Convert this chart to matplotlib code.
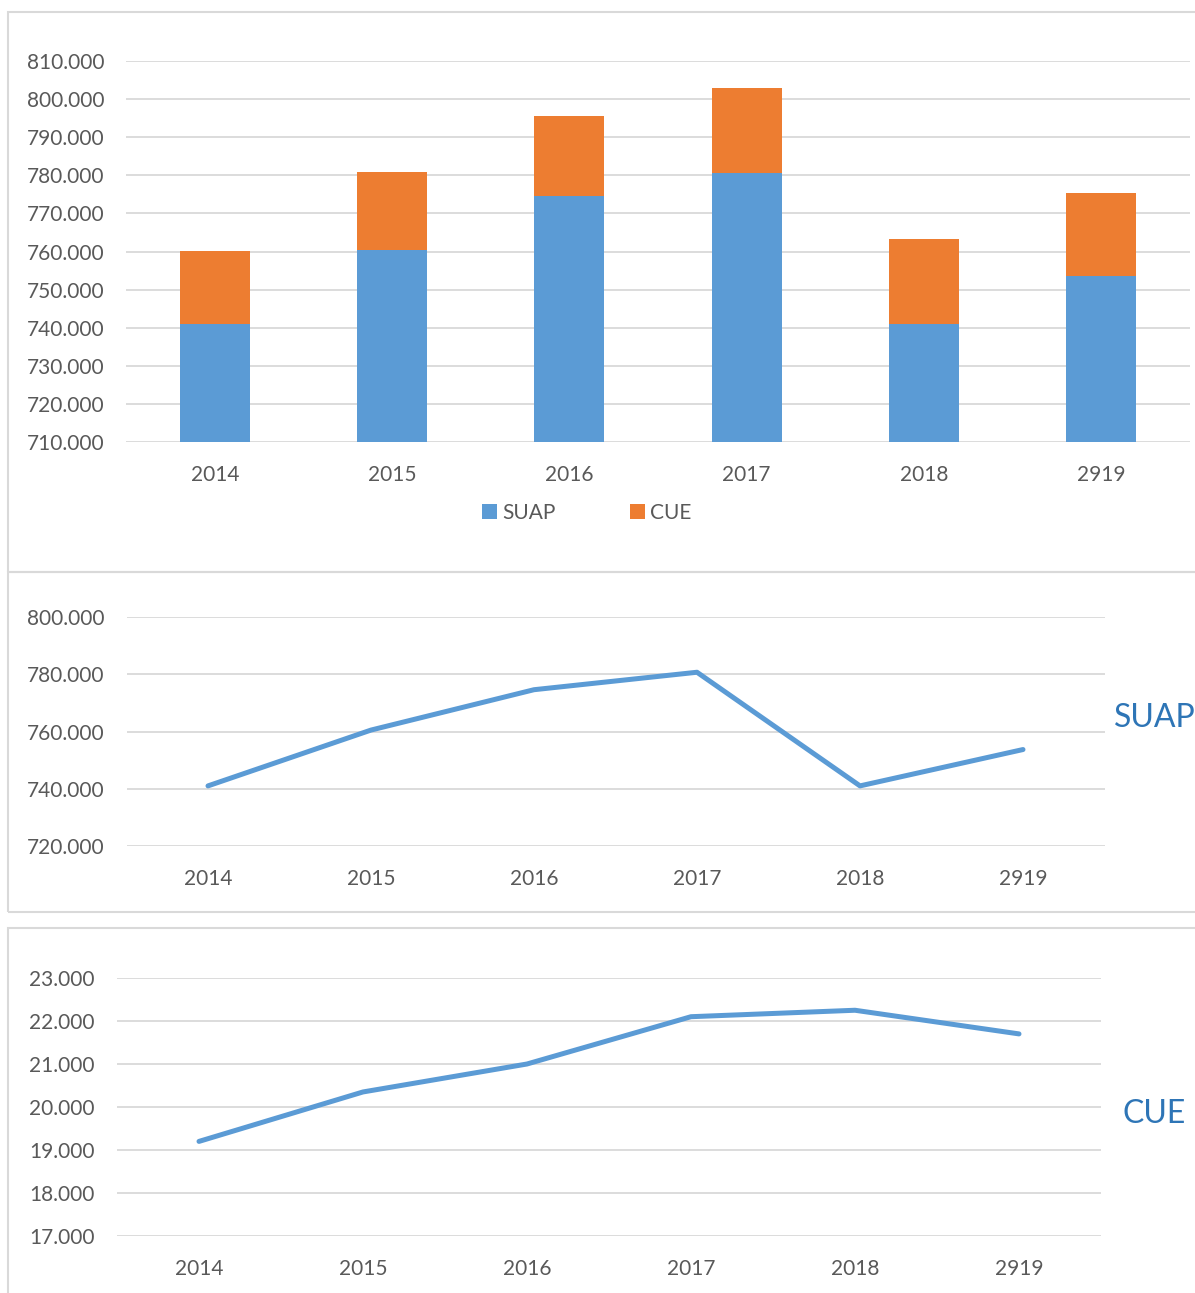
import matplotlib.pyplot as plt
from matplotlib.patches import Rectangle
from matplotlib.ticker import FuncFormatter, MultipleLocator
import numpy as np

plt.rcParams['font.family'] = ['Lato', 'DejaVu Sans']

years = ["2014", "2015", "2016", "2017", "2018", "2919"]
suap = [741000, 760500, 774600, 780700, 741000, 753700]
cue = [19200, 20350, 21000, 22100, 22250, 21700]

BLUE = "#5b9bd5"
ORANGE = "#ed7d31"
GRID = "#d9d9d9"
TXT = "#595959"
LABEL_BLUE = "#2e75b6"

W, H = 1195, 1293
fig = plt.figure(figsize=(W / 100, H / 100), dpi=100)


def ax_at(x0, y0, x1, y1):
    # pixel box (top-left origin) -> figure axes
    return fig.add_axes([x0 / W, 1 - y1 / H, (x1 - x0) / W, (y1 - y0) / H])


def dotfmt(v, pos):
    return f"{int(round(v)):,}".replace(",", ".")


def style(ax, xpad, ypad):
    for s in ax.spines.values():
        s.set_visible(False)
    ax.yaxis.set_major_formatter(FuncFormatter(dotfmt))
    ax.grid(axis="y", color=GRID, lw=1.3)
    ax.set_axisbelow(True)
    ax.tick_params(length=0, labelsize=15, colors=TXT)
    ax.tick_params(axis="x", pad=xpad)
    ax.tick_params(axis="y", pad=ypad)


# panel frames
for (x0, y0, x1, y1) in [(8, 12, 1196, 572), (8, 572, 1196, 912), (8, 928, 1196, 1296)]:
    fig.patches.append(Rectangle((x0 / W, 1 - y1 / H), (x1 - x0) / W, (y1 - y0) / H,
                                 transform=fig.transFigure, fill=False,
                                 edgecolor=GRID, lw=1.5))

x = np.arange(len(years))

# top: stacked bars
ax1 = ax_at(126.4, 61, 1189.6, 442)
ax1.bar(x, suap, width=0.395, color=BLUE, label="SUAP")
ax1.bar(x, cue, width=0.395, bottom=suap, color=ORANGE, label="CUE")
ax1.set_xlim(-0.5, len(years) - 0.5)
ax1.set_ylim(710000, 810000)
ax1.yaxis.set_major_locator(MultipleLocator(10000))
ax1.set_xticks(x, years)
style(ax1, 16.5, 16)
ax1.legend(loc="upper center", bbox_to_anchor=(0.433, -0.11), ncol=2, frameon=False,
           fontsize=15, labelcolor=TXT, handlelength=0.7, handleheight=0.7,
           handletextpad=0.25, columnspacing=3.6)

# middle: SUAP line
ax2 = ax_at(126.5, 617, 1104.5, 846)
ax2.plot(x, suap, color=BLUE, lw=3.6, solid_capstyle="round")
ax2.set_xlim(-0.5, len(years) - 0.5)
ax2.set_ylim(720000, 800000)
ax2.yaxis.set_major_locator(MultipleLocator(20000))
ax2.set_xticks(x, years)
style(ax2, 16.5, 16)
fig.text(1114 / W, 1 - 718 / H, "SUAP", color=LABEL_BLUE, fontsize=23, va="center", ha="left")

# bottom: CUE line
ax3 = ax_at(117, 978, 1101, 1236)
ax3.plot(x, cue, color=BLUE, lw=3.6, solid_capstyle="round")
ax3.set_xlim(-0.5, len(years) - 0.5)
ax3.set_ylim(17000, 23000)
ax3.yaxis.set_major_locator(MultipleLocator(1000))
ax3.set_xticks(x, years)
style(ax3, 16.5, 16)
fig.text(1122 / W, 1 - 1114 / H, "CUE", color=LABEL_BLUE, fontsize=23, va="center", ha="left")

fig.savefig("out.png", dpi=100)
